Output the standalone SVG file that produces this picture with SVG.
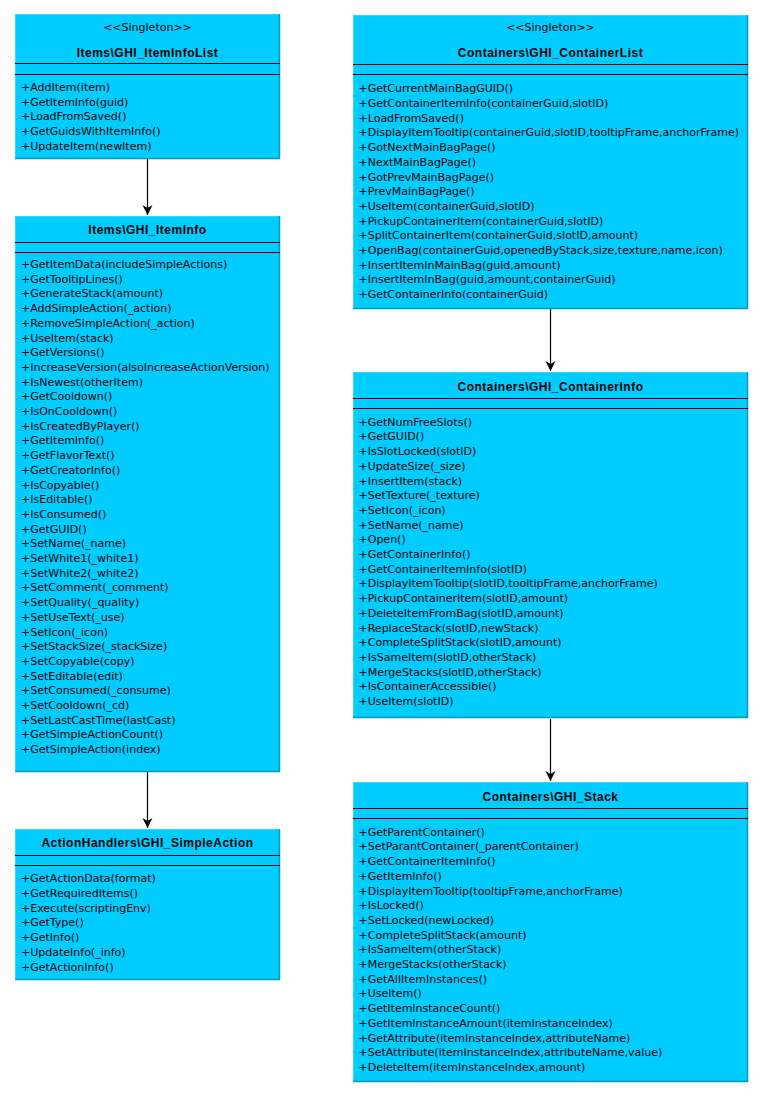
<svg xmlns="http://www.w3.org/2000/svg" width="765" height="1100" viewBox="0 0 765 1100">
<defs>
<marker id="arr" markerWidth="12" markerHeight="12" refX="10" refY="5" orient="auto" markerUnits="userSpaceOnUse">
<path d="M0,0 L10,5 L0,10 L3,5 Z" fill="#000"/>
</marker>
</defs>
<style>
.box{fill:#00CCFF;}
.hl{stroke:#33D6FF;stroke-width:1;fill:none;}
.sh{stroke:#0899BB;stroke-width:1.5;fill:none;}
.sep{stroke:#000;stroke-width:1;}
text{fill:#000;}
.st{font-family:"DejaVu Sans",Verdana,sans-serif;font-size:11px;text-anchor:middle;}
.ti{font-family:"Liberation Sans",Arial,sans-serif;font-size:12px;font-weight:bold;text-anchor:middle;letter-spacing:0.5px;}
.m{font-family:"DejaVu Sans",Verdana,sans-serif;font-size:11px;}
.con{stroke:#000;stroke-width:1.2;fill:none;marker-end:url(#arr);}
</style>
<rect width="765" height="1100" fill="#fff"/>

<g id="connectors">
<line class="con" x1="147.5" y1="159" x2="147.5" y2="215"/>
<line class="con" x1="147.5" y1="772" x2="147.5" y2="828"/>
<line class="con" x1="550.5" y1="309" x2="550.5" y2="371"/>
<line class="con" x1="550.5" y1="719" x2="550.5" y2="781"/>
</g>

<g id="ItemInfoList">
<rect class="box" x="15" y="14" width="265" height="145"/>
<path class="hl" d="M15.5,159 V14.5 H279.5"/>
<path class="sh" d="M279.5,14 V158.5 H15"/>
<line class="sep" x1="15" y1="63.5" x2="280" y2="63.5"/>
<line class="sep" x1="15" y1="74.5" x2="280" y2="74.5"/>
<text class="st" x="147.5" y="31">&lt;&lt;Singleton&gt;&gt;</text>
<text class="ti" x="147.5" y="57">Items\GHI_ItemInfoList</text>
<text class="m" x="21" y="91">+AddItem(item)</text>
<text class="m" x="21" y="105.7">+GetItemInfo(guid)</text>
<text class="m" x="21" y="120.4">+LoadFromSaved()</text>
<text class="m" x="21" y="135.1">+GetGuidsWithItemInfo()</text>
<text class="m" x="21" y="149.8">+UpdateItem(newItem)</text>
</g>

<g id="ItemInfo">
<rect class="box" x="15" y="216" width="265" height="556"/>
<path class="hl" d="M15.5,772 V216.5 H279.5"/>
<path class="sh" d="M279.5,216 V771.5 H15"/>
<line class="sep" x1="15" y1="242.5" x2="280" y2="242.5"/>
<line class="sep" x1="15" y1="252.5" x2="280" y2="252.5"/>
<text class="ti" x="147.5" y="233.5">Items\GHI_ItemInfo</text>
<text class="m" x="21" y="268">+GetItemData(includeSimpleActions)</text>
<text class="m" x="21" y="282.7">+GetTooltipLines()</text>
<text class="m" x="21" y="297.4">+GenerateStack(amount)</text>
<text class="m" x="21" y="312.1">+AddSimpleAction(_action)</text>
<text class="m" x="21" y="326.8">+RemoveSimpleAction(_action)</text>
<text class="m" x="21" y="341.5">+UseItem(stack)</text>
<text class="m" x="21" y="356.2">+GetVersions()</text>
<text class="m" x="21" y="370.9">+IncreaseVersion(alsoIncreaseActionVersion)</text>
<text class="m" x="21" y="385.6">+IsNewest(otherItem)</text>
<text class="m" x="21" y="400.3">+GetCooldown()</text>
<text class="m" x="21" y="415">+IsOnCooldown()</text>
<text class="m" x="21" y="429.7">+IsCreatedByPlayer()</text>
<text class="m" x="21" y="444.4">+GetItemInfo()</text>
<text class="m" x="21" y="459.1">+GetFlavorText()</text>
<text class="m" x="21" y="473.8">+GetCreatorInfo()</text>
<text class="m" x="21" y="488.5">+IsCopyable()</text>
<text class="m" x="21" y="503.2">+IsEditable()</text>
<text class="m" x="21" y="517.9">+IsConsumed()</text>
<text class="m" x="21" y="532.6">+GetGUID()</text>
<text class="m" x="21" y="547.3">+SetName(_name)</text>
<text class="m" x="21" y="562">+SetWhite1(_white1)</text>
<text class="m" x="21" y="576.7">+SetWhite2(_white2)</text>
<text class="m" x="21" y="591.4">+SetComment(_comment)</text>
<text class="m" x="21" y="606.1">+SetQuality(_quality)</text>
<text class="m" x="21" y="620.8">+SetUseText(_use)</text>
<text class="m" x="21" y="635.5">+SetIcon(_icon)</text>
<text class="m" x="21" y="650.2">+SetStackSize(_stackSize)</text>
<text class="m" x="21" y="664.9">+SetCopyable(copy)</text>
<text class="m" x="21" y="679.6">+SetEditable(edit)</text>
<text class="m" x="21" y="694.3">+SetConsumed(_consume)</text>
<text class="m" x="21" y="709">+SetCooldown(_cd)</text>
<text class="m" x="21" y="723.7">+SetLastCastTime(lastCast)</text>
<text class="m" x="21" y="738.4">+GetSimpleActionCount()</text>
<text class="m" x="21" y="753.1">+GetSimpleAction(index)</text>
</g>

<g id="SimpleAction">
<rect class="box" x="15" y="829" width="265" height="151"/>
<path class="hl" d="M15.5,980 V829.5 H279.5"/>
<path class="sh" d="M279.5,829 V979.5 H15"/>
<line class="sep" x1="15" y1="855.5" x2="280" y2="855.5"/>
<line class="sep" x1="15" y1="865.5" x2="280" y2="865.5"/>
<text class="ti" x="147.5" y="846.5">ActionHandlers\GHI_SimpleAction</text>
<text class="m" x="21" y="882.3">+GetActionData(format)</text>
<text class="m" x="21" y="897">+GetRequiredItems()</text>
<text class="m" x="21" y="911.7">+Execute(scriptingEnv)</text>
<text class="m" x="21" y="926.4">+GetType()</text>
<text class="m" x="21" y="941.1">+GetInfo()</text>
<text class="m" x="21" y="955.8">+UpdateInfo(_info)</text>
<text class="m" x="21" y="970.5">+GetActionInfo()</text>
</g>

<g id="ContainerList">
<rect class="box" x="353" y="15" width="395" height="294"/>
<path class="hl" d="M353.5,309 V15.5 H747.5"/>
<path class="sh" d="M747.5,15 V308.5 H353"/>
<line class="sep" x1="353" y1="64.5" x2="748" y2="64.5"/>
<line class="sep" x1="353" y1="74.5" x2="748" y2="74.5"/>
<text class="st" x="550.5" y="31">&lt;&lt;Singleton&gt;&gt;</text>
<text class="ti" x="550.5" y="57">Containers\GHI_ContainerList</text>
<text class="m" x="358.5" y="92.3">+GetCurrentMainBagGUID()</text>
<text class="m" x="358.5" y="107">+GetContainerItemInfo(containerGuid,slotID)</text>
<text class="m" x="358.5" y="121.7">+LoadFromSaved()</text>
<text class="m" x="358.5" y="136.4">+DisplayItemTooltip(containerGuid,slotID,tooltipFrame,anchorFrame)</text>
<text class="m" x="358.5" y="151.1">+GotNextMainBagPage()</text>
<text class="m" x="358.5" y="165.8">+NextMainBagPage()</text>
<text class="m" x="358.5" y="180.5">+GotPrevMainBagPage()</text>
<text class="m" x="358.5" y="195.2">+PrevMainBagPage()</text>
<text class="m" x="358.5" y="209.9">+UseItem(containerGuid,slotID)</text>
<text class="m" x="358.5" y="224.6">+PickupContainerItem(containerGuid,slotID)</text>
<text class="m" x="358.5" y="239.3">+SplitContainerItem(containerGuid,slotID,amount)</text>
<text class="m" x="358.5" y="254">+OpenBag(containerGuid,openedByStack,size,texture,name,icon)</text>
<text class="m" x="358.5" y="268.7">+InsertItemInMainBag(guid,amount)</text>
<text class="m" x="358.5" y="283.4">+InsertItemInBag(guid,amount,containerGuid)</text>
<text class="m" x="358.5" y="298.1">+GetContainerInfo(containerGuid)</text>
</g>

<g id="ContainerInfo">
<rect class="box" x="353" y="372" width="395" height="346"/>
<path class="hl" d="M353.5,718 V372.5 H747.5"/>
<path class="sh" d="M747.5,372 V717.5 H353"/>
<line class="sep" x1="353" y1="398.5" x2="748" y2="398.5"/>
<line class="sep" x1="353" y1="408.5" x2="748" y2="408.5"/>
<text class="ti" x="550.5" y="390.5">Containers\GHI_ContainerInfo</text>
<text class="m" x="358.5" y="425.7">+GetNumFreeSlots()</text>
<text class="m" x="358.5" y="440.4">+GetGUID()</text>
<text class="m" x="358.5" y="455.1">+IsSlotLocked(slotID)</text>
<text class="m" x="358.5" y="469.8">+UpdateSize(_size)</text>
<text class="m" x="358.5" y="484.5">+InsertItem(stack)</text>
<text class="m" x="358.5" y="499.2">+SetTexture(_texture)</text>
<text class="m" x="358.5" y="513.9">+SetIcon(_icon)</text>
<text class="m" x="358.5" y="528.6">+SetName(_name)</text>
<text class="m" x="358.5" y="543.3">+Open()</text>
<text class="m" x="358.5" y="558">+GetContainerInfo()</text>
<text class="m" x="358.5" y="572.7">+GetContainerItemInfo(slotID)</text>
<text class="m" x="358.5" y="587.4">+DisplayItemTooltip(slotID,tooltipFrame,anchorFrame)</text>
<text class="m" x="358.5" y="602.1">+PickupContainerItem(slotID,amount)</text>
<text class="m" x="358.5" y="616.8">+DeleteItemFromBag(slotID,amount)</text>
<text class="m" x="358.5" y="631.5">+ReplaceStack(slotID,newStack)</text>
<text class="m" x="358.5" y="646.2">+CompleteSplitStack(slotID,amount)</text>
<text class="m" x="358.5" y="660.9">+IsSameItem(slotID,otherStack)</text>
<text class="m" x="358.5" y="675.6">+MergeStacks(slotID,otherStack)</text>
<text class="m" x="358.5" y="690.3">+IsContainerAccessible()</text>
<text class="m" x="358.5" y="705">+UseItem(slotID)</text>
</g>

<g id="Stack">
<rect class="box" x="353" y="782" width="395" height="300"/>
<path class="hl" d="M353.5,1082 V782.5 H747.5"/>
<path class="sh" d="M747.5,782 V1081.5 H353"/>
<line class="sep" x1="353" y1="808.5" x2="748" y2="808.5"/>
<line class="sep" x1="353" y1="818.5" x2="748" y2="818.5"/>
<text class="ti" x="550.5" y="800.5">Containers\GHI_Stack</text>
<text class="m" x="358.5" y="835.7">+GetParentContainer()</text>
<text class="m" x="358.5" y="850.4">+SetParantContainer(_parentContainer)</text>
<text class="m" x="358.5" y="865.1">+GetContainerItemInfo()</text>
<text class="m" x="358.5" y="879.8">+GetItemInfo()</text>
<text class="m" x="358.5" y="894.5">+DisplayItemTooltip(tooltipFrame,anchorFrame)</text>
<text class="m" x="358.5" y="909.2">+IsLocked()</text>
<text class="m" x="358.5" y="923.9">+SetLocked(newLocked)</text>
<text class="m" x="358.5" y="938.6">+CompleteSplitStack(amount)</text>
<text class="m" x="358.5" y="953.3">+IsSameItem(otherStack)</text>
<text class="m" x="358.5" y="968">+MergeStacks(otherStack)</text>
<text class="m" x="358.5" y="982.7">+GetAllItemInstances()</text>
<text class="m" x="358.5" y="997.4">+UseItem()</text>
<text class="m" x="358.5" y="1012.1">+GetItemInstanceCount()</text>
<text class="m" x="358.5" y="1026.8">+GetItemInstanceAmount(itemInstanceIndex)</text>
<text class="m" x="358.5" y="1041.5">+GetAttribute(itemInstanceIndex,attributeName)</text>
<text class="m" x="358.5" y="1056.2">+SetAttribute(itemInstanceIndex,attributeName,value)</text>
<text class="m" x="358.5" y="1070.9">+DeleteItem(itemInstanceIndex,amount)</text>
</g>
</svg>
